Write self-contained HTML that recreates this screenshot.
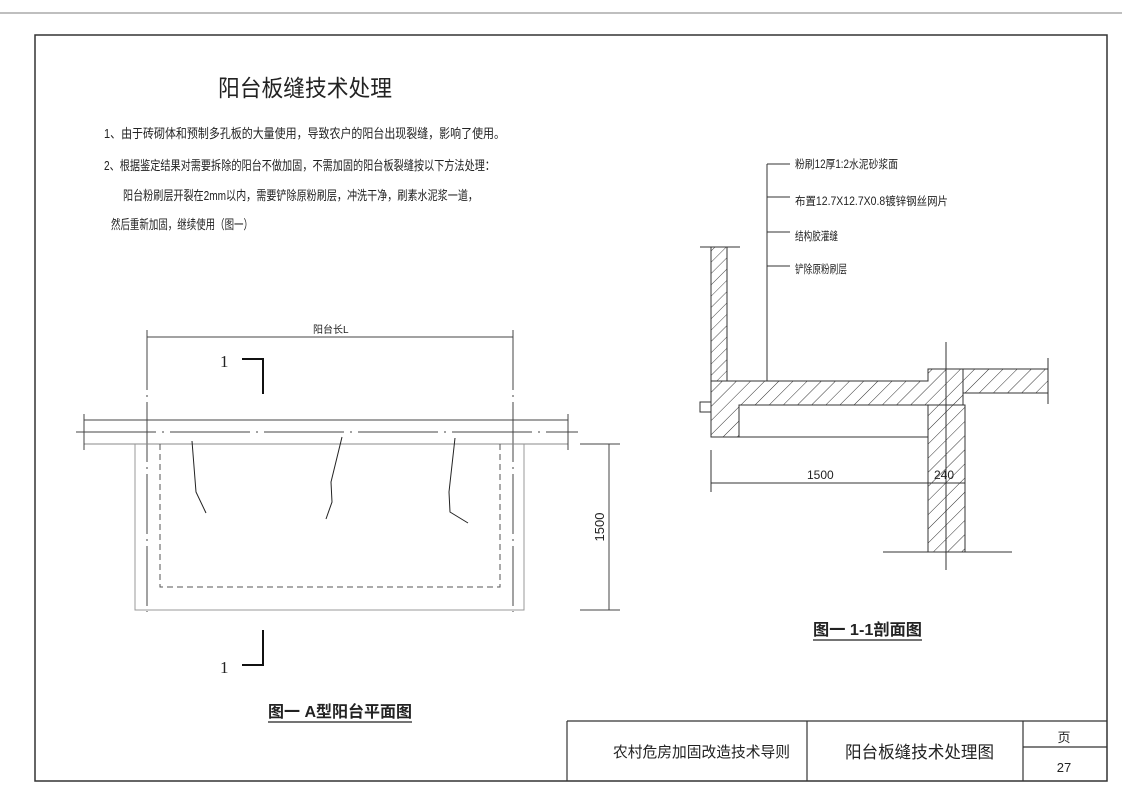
<!DOCTYPE html>
<html><head><meta charset="utf-8"><style>
html,body{margin:0;padding:0;background:#fff;}
svg{display:block;}
text{font-family:"Liberation Sans","Noto Sans CJK SC",sans-serif;fill:#222;}
text.s{font-family:"Liberation Serif",serif;}
</style></head><body>
<svg width="1122" height="793" viewBox="0 0 1122 793" xmlns="http://www.w3.org/2000/svg">
<defs>
<pattern id="h" width="10" height="10" patternUnits="userSpaceOnUse" patternTransform="rotate(45)">
<rect width="10" height="10" fill="#fff"/><line x1="0" y1="0" x2="0" y2="10" stroke="#333" stroke-width="1"/>
</pattern>
<pattern id="h2" width="8" height="8" patternUnits="userSpaceOnUse" patternTransform="rotate(45)">
<rect width="8" height="8" fill="#fff"/><line x1="0" y1="0" x2="0" y2="8" stroke="#333" stroke-width="0.9"/>
</pattern>
</defs>
<line x1="0" y1="13" x2="1122" y2="13" stroke="#aaa" stroke-width="1.5"/>
<rect x="35" y="35" width="1072" height="746" fill="none" stroke="#333" stroke-width="1.5"/>

<text x="218" y="96" font-size="23" textLength="174" lengthAdjust="spacingAndGlyphs">阳台板缝技术处理</text>
<g font-size="13">
<text x="104" y="138" textLength="401" lengthAdjust="spacingAndGlyphs">1、由于砖砌体和预制多孔板的大量使用，导致农户的阳台出现裂缝，影响了使用。</text>
<text x="104" y="170" textLength="391" lengthAdjust="spacingAndGlyphs">2、根据鉴定结果对需要拆除的阳台不做加固，不需加固的阳台板裂缝按以下方法处理：</text>
<text x="123" y="200" textLength="355" lengthAdjust="spacingAndGlyphs">阳台粉刷层开裂在2mm以内，需要铲除原粉刷层，冲洗干净，刷素水泥浆一道，</text>
<text x="111" y="229" textLength="142" lengthAdjust="spacingAndGlyphs">然后重新加固，继续使用（图一）</text>
</g>

<!-- plan -->
<g stroke="#444" fill="none" stroke-width="1">
<line x1="147" y1="337" x2="513" y2="337"/>
<line x1="147" y1="330" x2="147" y2="612" stroke-dasharray="60,5,2,5"/>
<line x1="513" y1="330" x2="513" y2="612" stroke-dasharray="60,5,2,5"/>
<line x1="84" y1="420" x2="568" y2="420"/>
<line x1="84" y1="444" x2="568" y2="444" stroke="#888"/>
<line x1="76" y1="432" x2="578" y2="432" stroke-dasharray="80,6,2,6"/>
<line x1="84" y1="414" x2="84" y2="450"/><line x1="568" y1="414" x2="568" y2="450"/>
<polyline points="135,444 135,610 524,610 524,444" stroke="#999"/>
<polyline points="160,444 160,587 500,587 500,444" stroke-dasharray="6,4" stroke="#555"/>
<line x1="580" y1="444" x2="620" y2="444"/><line x1="580" y1="610" x2="620" y2="610"/>
<line x1="609" y1="444" x2="609" y2="610"/>
<polyline points="192,441 196,492 206,513" stroke="#222"/>
<polyline points="342,437 331,482 332,502 326,519" stroke="#222"/>
<polyline points="455,438 449,492 450,512 468,523" stroke="#222"/>
<polyline points="242,359 263,359 263,394" stroke="#111" stroke-width="2"/>
<polyline points="242,665 263,665 263,630" stroke="#111" stroke-width="2"/>
</g>
<text x="313" y="333" font-size="10">阳台长L</text>
<text class="s" x="220" y="367" font-size="17">1</text>
<text class="s" x="220" y="673" font-size="17">1</text>
<text x="0" y="0" font-size="13" transform="translate(604,527) rotate(-90)" text-anchor="middle">1500</text>
<text x="268" y="717" font-size="16" font-weight="bold" textLength="144" lengthAdjust="spacingAndGlyphs">图一 A型阳台平面图</text>
<line x1="268" y1="722" x2="412" y2="722" stroke="#222" stroke-width="1.2"/>

<!-- section -->
<g stroke="#333" stroke-width="1">
<rect x="711" y="247" width="16" height="134" fill="url(#h2)"/>
<path d="M711 381 H928 V369 H963 V405 H739 V437 H711 Z" fill="url(#h)"/>
<rect x="963" y="369" width="85" height="24" fill="url(#h)"/>
<rect x="928" y="405" width="37" height="147" fill="url(#h)"/>
<line x1="739" y1="437" x2="928" y2="437"/>
<rect x="700" y="402" width="11" height="10" fill="#fff"/>
<line x1="700" y1="247" x2="740" y2="247"/>
<line x1="946" y1="342" x2="946" y2="570"/>
<line x1="883" y1="552" x2="1012" y2="552"/>
<line x1="1048" y1="358" x2="1048" y2="404"/>
<line x1="767" y1="164" x2="767" y2="381"/>
<line x1="767" y1="164" x2="790" y2="164"/><line x1="767" y1="197" x2="790" y2="197"/>
<line x1="767" y1="232" x2="790" y2="232"/><line x1="767" y1="266" x2="790" y2="266"/>
<line x1="711" y1="450" x2="711" y2="492"/>
<line x1="711" y1="483" x2="965" y2="483"/>
</g>
<g font-size="11.5">
<text x="795" y="168" textLength="103" lengthAdjust="spacingAndGlyphs">粉刷12厚1:2水泥砂浆面</text>
<text x="795" y="205" textLength="153" lengthAdjust="spacingAndGlyphs">布置12.7X12.7X0.8镀锌钢丝网片</text>
<text x="795" y="240" textLength="43" lengthAdjust="spacingAndGlyphs">结构胶灌缝</text>
<text x="795" y="273" textLength="52" lengthAdjust="spacingAndGlyphs">铲除原粉刷层</text>
</g>
<text x="807" y="479" font-size="12">1500</text>
<text x="934" y="479" font-size="12">240</text>
<text x="813" y="635" font-size="16" font-weight="bold" textLength="109" lengthAdjust="spacingAndGlyphs">图一 1-1剖面图</text>
<line x1="813" y1="640" x2="922" y2="640" stroke="#222" stroke-width="1.2"/>

<!-- title block -->
<g stroke="#333" stroke-width="1.2" fill="none">
<line x1="567" y1="721" x2="1107" y2="721"/>
<line x1="567" y1="721" x2="567" y2="781"/>
<line x1="807" y1="721" x2="807" y2="781"/>
<line x1="1023" y1="721" x2="1023" y2="781"/>
<line x1="1023" y1="747" x2="1107" y2="747"/>
</g>
<text x="613" y="757" font-size="15" textLength="177" lengthAdjust="spacingAndGlyphs">农村危房加固改造技术导则</text>
<text x="845" y="758" font-size="17" textLength="149" lengthAdjust="spacingAndGlyphs">阳台板缝技术处理图</text>
<text x="1064" y="742" font-size="13" text-anchor="middle">页</text>
<text x="1064" y="772" font-size="13" text-anchor="middle">27</text>
</svg>
</body></html>
